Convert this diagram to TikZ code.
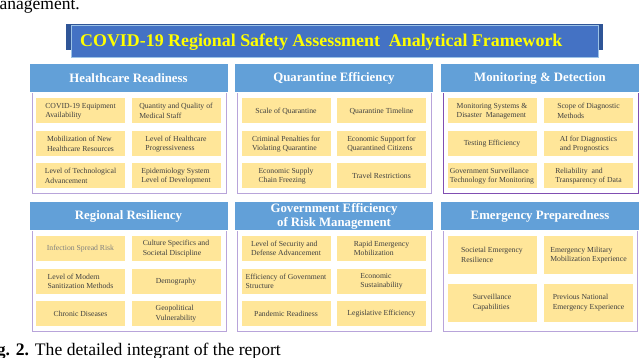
\documentclass[tikz,border=0pt]{standalone}
\usepackage{fontspec}
\setmainfont{Liberation Serif}
\usetikzlibrary{positioning}
\definecolor{titleblue}{RGB}{68,114,196}
\definecolor{darkblue}{RGB}{47,85,151}
\definecolor{edgeblue}{RGB}{157,195,230}
\definecolor{hdrblue}{RGB}{98,160,216}
\definecolor{itemgold}{RGB}{255,230,153}
\definecolor{panelpurple}{RGB}{184,164,218}
\definecolor{darkpurple}{RGB}{128,78,178}
\definecolor{itemtext}{RGB}{64,64,64}
\definecolor{softtext}{RGB}{128,128,128}
\definecolor{titleyellow}{RGB}{255,255,0}

\begin{document}
\begin{tikzpicture}[x=1pt,y=-1pt,
  hdr/.style={fill=hdrblue,draw=white,line width=0.6pt,minimum width=199pt,minimum height=29pt,inner sep=0pt,text=white,font=\fontsize{12.8}{14}\selectfont\bfseries,align=center},
  panel/.style={draw=panelpurple,line width=0.8pt},
  item/.style={fill=itemgold,minimum width=89pt,minimum height=25pt,inner sep=1pt,text=itemtext,font=\fontsize{7.7}{9.4}\selectfont,align=left},
  tallitem/.style={item,minimum height=38pt}]
\useasboundingbox (0,0) rectangle (640,358);
% text of the page around the figure
\node[anchor=base east,inner sep=0pt,font=\fontsize{17.5}{20}\selectfont] (prevline) at (80,9.5) {management.};
\node[anchor=base east,inner sep=0pt,font=\fontsize{17.6}{20}\selectfont] (caption) at (281,355) {\textbf{Fig. 2.} The detailed integrant of the report};
% title
\fill[darkblue] (66,24) rectangle (603,50);
\node[fill=titleblue,draw=edgeblue,line width=0.6pt,minimum width=527pt,minimum height=32pt,inner sep=0pt] (titlebox) at (334.5,41) {};
\node[anchor=west,inner sep=0pt,text=titleyellow,font=\fontsize{17.9}{20}\selectfont\bfseries] (title) at (80,42) {COVID-19 Regional Safety Assessment~ Analytical Framework};
% upper row
\begin{scope}[shift={(29,64)}]
\draw[panel] (3,28) rectangle (197,129);
\node[hdr] (health) at (99.5,14) {Healthcare Readiness};
\node[item] (h1) at (51.5,47) {COVID-19 Equipment\\Availability};
\node[item] (h2) at (147,47) {Quantity and Quality of\\Medical Staff};
\node[item] (h3) at (51.5,80) {Mobilization of New\\Healthcare Resources};
\node[item] (h4) at (147,80) {Level of Healthcare\\Progressiveness};
\node[item] (h5) at (51.5,112) {Level of Technological\\Advancement};
\node[item] (h6) at (147,112) {Epidemiology System\\Level of Development};
\end{scope}
\begin{scope}[shift={(234.5,64)}]
\draw[panel] (3,28) rectangle (197,129);
\node[hdr] (quar) at (99.5,14) {Quarantine Efficiency};
\node[item] (q1) at (51.5,47) {Scale of Quarantine};
\node[item] (q2) at (147,47) {Quarantine Timeline};
\node[item] (q3) at (51.5,80) {Criminal Penalties for\\Violating Quarantine};
\node[item] (q4) at (147,80) {Economic Support for\\Quarantined Citizens};
\node[item] (q5) at (51.5,112) {Economic Supply\\Chain Freezing};
\node[item] (q6) at (147,112) {Travel Restrictions};
\end{scope}
\begin{scope}[shift={(440,64)}]
\draw[panel,draw=darkpurple] (3,28) rectangle (198,129);
\node[hdr] (monit) at (100,14) {Monitoring \& Detection};
\node[item] (m1) at (52,47) {Monitoring Systems \&\\Disaster~ Management};
\node[item] (m2) at (148.5,47) {Scope of Diagnostic\\Methods};
\node[item] (m3) at (52,80) {Testing Efficiency};
\node[item] (m4) at (148.5,80) {AI for Diagnostics\\and Prognostics};
\node[item] (m5) at (52,112) {Government Surveillance\\Technology for Monitoring};
\node[item] (m6) at (148.5,112) {Reliability~ and\\Transparency of Data};
\end{scope}
% lower row
\begin{scope}[shift={(29,201)}]
\draw[panel] (3,28) rectangle (197,130);
\node[hdr] (resil) at (99.5,15) {Regional Resiliency};
\node[item,text=softtext] (r1) at (51.5,47.5) {Infection Spread Risk};
\node[item] (r2) at (147,47.5) {Culture Specifics and\\Societal Discipline};
\node[item] (r3) at (51.5,80.5) {Level of Modern\\Sanitization Methods};
\node[item] (r4) at (147,80.5) {Demography};
\node[item] (r5) at (51.5,112.5) {Chronic Diseases};
\node[item] (r6) at (147,112.5) {Geopolitical\\Vulnerability};
\end{scope}
\begin{scope}[shift={(234.5,201)}]
\draw[panel] (3,28) rectangle (197,130);
\node[hdr] (gov) at (99.5,15) {Government Efficiency\\of Risk Management};
\node[item] (g1) at (51.5,47.5) {Level of Security and\\Defense Advancement};
\node[item] (g2) at (147,47.5) {Rapid Emergency\\Mobilization};
\node[item] (g3) at (51.5,80.5) {Efficiency of Government\\Structure};
\node[item] (g4) at (147,80.5) {Economic\\Sustainability};
\node[item] (g5) at (51.5,112.5) {Pandemic Readiness};
\node[item] (g6) at (147,112.5) {Legislative Efficiency};
\end{scope}
\begin{scope}[shift={(440,201)}]
\draw[panel] (3,28) rectangle (197,130);
\node[hdr] (emerg) at (100,15) {Emergency Preparedness};
\node[tallitem] (e1) at (52,54) {Societal Emergency\\Resilience};
\node[tallitem] (e2) at (148.5,54) {Emergency Military\\Mobilization Experience};
\node[tallitem] (e3) at (52,101.5) {Surveillance\\Capabilities};
\node[tallitem] (e4) at (148.5,101.5) {Previous National\\Emergency Experience};
\end{scope}
\end{tikzpicture}
\end{document}
